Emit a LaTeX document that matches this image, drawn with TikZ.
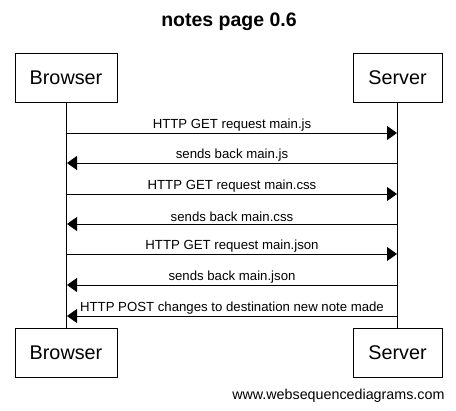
\documentclass[tikz,border=0pt]{standalone}
\usepackage{fontspec}
\setmainfont{Liberation Sans}
\usetikzlibrary{arrows.meta}
\begin{document}
\begin{tikzpicture}[x=1pt,y=-1pt,
  actor/.style={draw,line width=0.8pt,minimum width=102pt,minimum height=49pt,font=\fontsize{19.8}{22}\selectfont,inner sep=0pt},
  sactor/.style={actor,minimum width=89pt},
  msg/.style={line width=0.8pt,-{Triangle[length=10pt,width=14pt]}},
  lbl/.style={font=\fontsize{13.2}{15}\selectfont,above=0.5pt,inner sep=1pt}]
\useasboundingbox (0,0) rectangle (456,411);
\node[font=\bfseries\fontsize{19.5}{22}\selectfont] (title) at (229,22) {notes page 0.6};
\node[actor] (b1) at (66,77.5) {Browser};
\node[sactor] (s1) at (397.5,77.5) {Server};
\node[actor] (b2) at (66,352.5) {Browser};
\node[sactor] (s2) at (397.5,352.5) {Server};
\draw[line width=0.8pt] (b1.south) -- (b2.north);
\draw[line width=0.8pt] (s1.south) -- (s2.north);
\foreach \y/\n in {133/1,163/2,194/3,224/4,254/5,285/6,316/7}{
  \coordinate (bl\n) at (67,\y);
  \coordinate (sl\n) at (397,\y);
}
\draw[msg] (bl1) -- node[lbl] (t1) {HTTP GET request main.js} (sl1);
\draw[msg] (sl2) -- node[lbl] (t2) {sends back main.js} (bl2);
\draw[msg] (bl3) -- node[lbl] (t3) {HTTP GET request main.css} (sl3);
\draw[msg] (sl4) -- node[lbl] (t4) {sends back main.css} (bl4);
\draw[msg] (bl5) -- node[lbl] (t5) {HTTP GET request main.json} (sl5);
\draw[msg] (sl6) -- node[lbl] (t6) {sends back main.json} (bl6);
\draw[msg] (sl7) -- node[lbl] (t7) {HTTP POST changes to destination new note made} (bl7);
\node[font=\fontsize{14.3}{16}\selectfont,anchor=east] (wm) at (448,396) {www.websequencediagrams.com};
\end{tikzpicture}
\end{document}
